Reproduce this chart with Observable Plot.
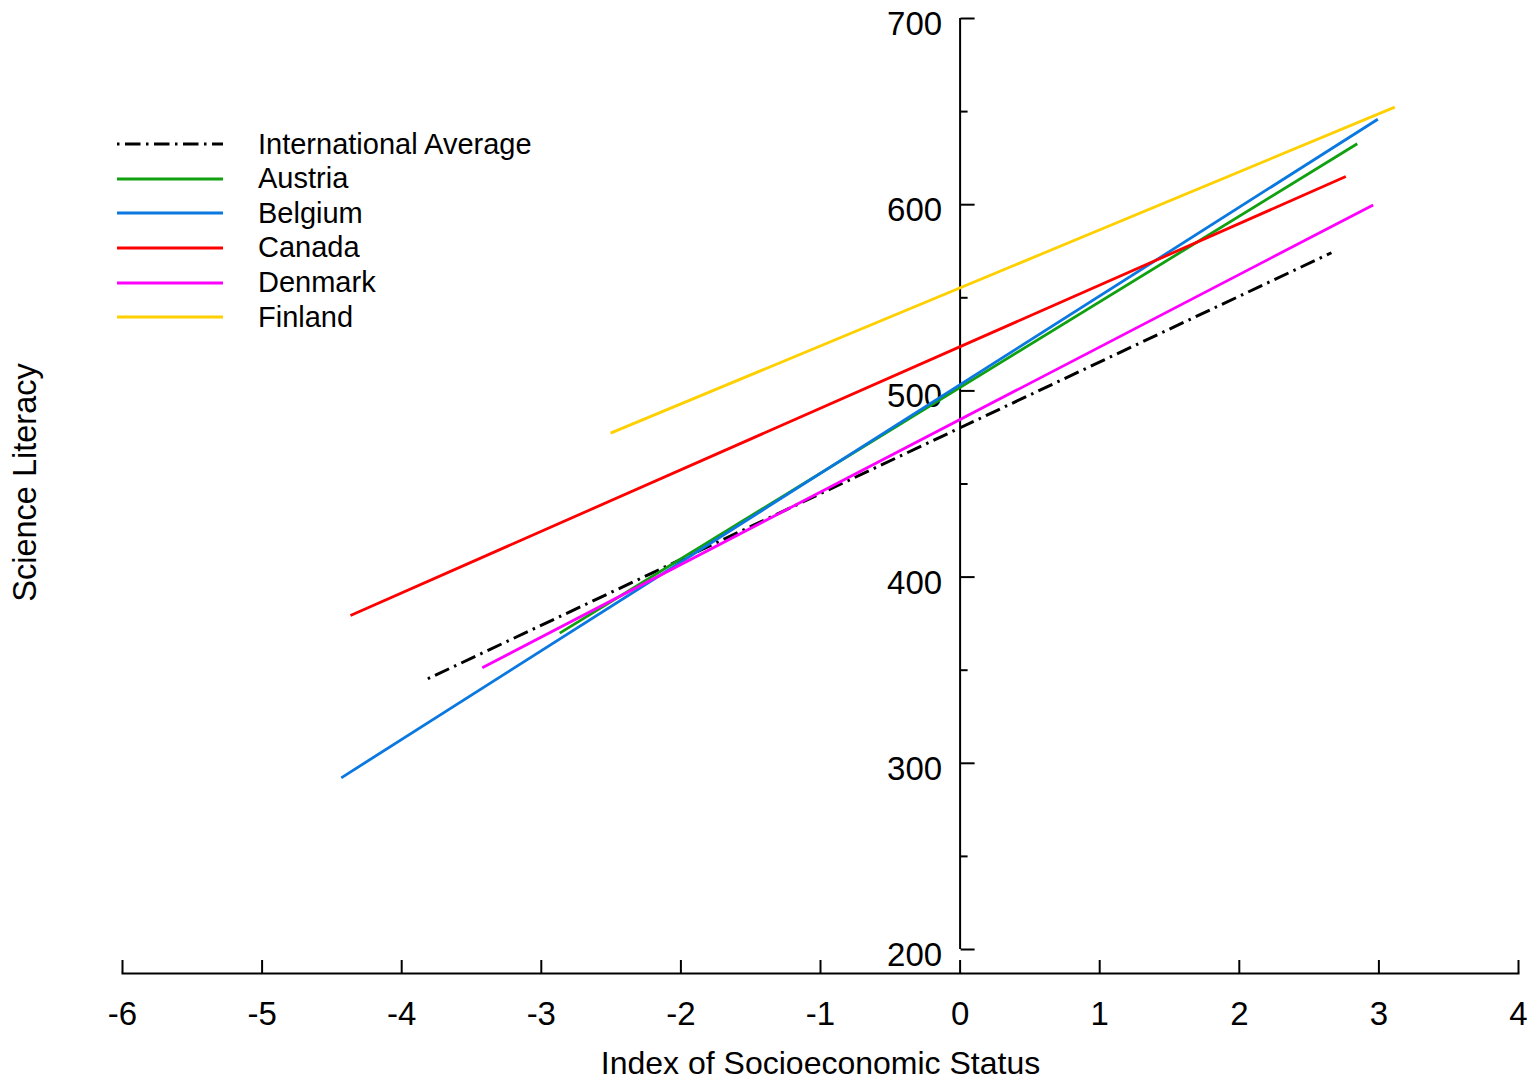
<!DOCTYPE html>
<html>
<head>
<meta charset="utf-8">
<script src="https://cdn.jsdelivr.net/npm/d3@7"></script>
<script src="https://cdn.jsdelivr.net/npm/@observablehq/plot@0.6"></script>
<style>
  body { margin: 0; background: #fff; font-family: "Liberation Sans", Arial, sans-serif; }
  #wrap { position: relative; width: 1532px; height: 1082px; }
  #legend { position: absolute; left: 117px; top: 126.7px; }
  .row { display: flex; align-items: center; height: 34.65px; }
  .row span { font-size: 29px; margin-left: 35px; color: #000; line-height: 1; }
  .row svg { display: block; }
</style>
</head>
<body>
<div id="wrap"><div id="chart"></div><div id="legend"></div></div>
<script>
// ---- data ----
const seriesNames = ["International Average", "Austria", "Belgium", "Canada", "Denmark", "Finland"];
const seriesColors = ["#000000", "#10a010", "#0a78e0", "#ff0000", "#ff00ff", "#ffd000"];
const xStart = [-3.813, -2.868, -4.433, -4.367, -3.423, -2.504];
const yStart = [345.4, 369.9, 292.2, 379.4, 351.3, 477.3];
const xEnd = [2.660, 2.845, 2.992, 2.763, 2.959, 3.114];
const yEnd = [574.2, 632.7, 645.9, 615.1, 599.9, 652.4];
const xTicks = [-6, -5, -4, -3, -2, -1, 0, 1, 2, 3, 4];
const yTicks = [200, 300, 400, 500, 600, 700];
const yMinorTicks = [250, 350, 450, 550, 650];
const xLabel = "Index of Socioeconomic Status";
const yLabel = "Science Literacy";
const avgDash = "2.5,5.5,15.5,5.5";

// ---- build table ----
const rows = seriesNames.flatMap((s, i) => [
  {series: s, x: xStart[i], y: yStart[i]},
  {series: s, x: xEnd[i], y: yEnd[i]}
]);
const avgRows = rows.filter(r => r.series === seriesNames[0]);
const countryRows = rows.filter(r => r.series !== seriesNames[0]);
const fmt = d => String(d);

const chart = Plot.plot({
  width: 1532,
  height: 1082,
  marginLeft: 122,
  marginRight: 14,
  marginTop: 18,
  marginBottom: 109,
  style: {fontFamily: "'Liberation Sans', Arial, sans-serif", fontSize: "33px", color: "#000", background: "#fff"},
  x: {domain: [xTicks[0], xTicks[xTicks.length - 1]], axis: null, label: null},
  y: {domain: [yTicks[0], yTicks[yTicks.length - 1]], insetBottom: 24, axis: null, label: null},
  color: {domain: seriesNames, range: seriesColors},
  marks: [
    // axis lines
    Plot.ruleX([0], {y1: yTicks[0], y2: yTicks[yTicks.length - 1], stroke: "#000", strokeWidth: 2}),
    Plot.frame({anchor: "bottom", stroke: "#000", strokeWidth: 2}),
    // y ticks (pointing right) and labels (left)
    Plot.axisY(yTicks, {x: 0, anchor: "right", tickSize: 14, strokeWidth: 2, fill: "none", label: null}),
    Plot.axisY(yMinorTicks, {x: 0, anchor: "right", tickSize: 7, strokeWidth: 2, fill: "none", label: null}),
    Plot.axisY(yTicks, {x: 0, anchor: "left", tickSize: 0, tickPadding: 18, dy: 6, fontSize: 33, tickFormat: fmt, label: null}),
    // x ticks (pointing up) and labels
    Plot.axisX(xTicks, {anchor: "bottom", tickSize: 13, dy: -13, strokeWidth: 2, fill: "none", label: null}),
    Plot.axisX(xTicks, {anchor: "bottom", tickSize: 0, tickPadding: 28, fontSize: 33, tickFormat: fmt, label: null}),
    // titles
    Plot.text([xLabel], {text: d => d, frameAnchor: "bottom", dy: 90, fontSize: 32, lineAnchor: "middle"}),
    Plot.text([yLabel], {text: d => d, frameAnchor: "left", textAnchor: "middle", rotate: -90, dx: -97, dy: -13.5, fontSize: 32.5, lineAnchor: "middle"}),
    // lines
    Plot.line(avgRows, {x: "x", y: "y", stroke: "series", strokeWidth: 3, strokeDasharray: avgDash, strokeLinecap: "butt"}),
    Plot.line(countryRows, {x: "x", y: "y", z: "series", stroke: "series", strokeWidth: 2.8, strokeLinecap: "butt"})
  ]
});
document.getElementById("chart").appendChild(chart);

// ---- legend ----
const legend = d3.select("#legend");
seriesNames.forEach((s, i) => {
  const row = legend.append("div").attr("class", "row");
  const svg = row.append("svg").attr("width", 106).attr("height", 6);
  svg.append("line")
    .attr("x1", 0).attr("x2", 106).attr("y1", 3).attr("y2", 3)
    .attr("stroke", seriesColors[i]).attr("stroke-width", 2.8)
    .attr("stroke-dasharray", i === 0 ? avgDash : null);
  row.append("span").text(s);
});
</script>
</body>
</html>
